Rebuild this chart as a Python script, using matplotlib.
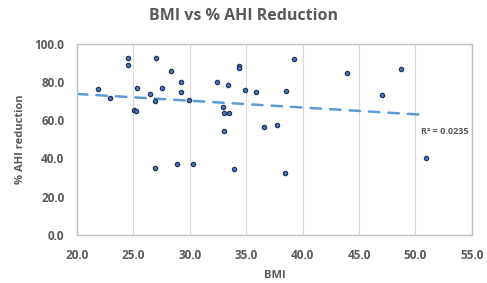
import matplotlib
matplotlib.use("Agg")
import matplotlib.pyplot as plt
import matplotlib.ticker as mticker
import numpy as np

plt.rcParams["font.family"] = ["Open Sans", "DejaVu Sans"]

# data
bmi = [21.9, 22.9, 24.5, 24.5, 25.3, 25.1, 25.2, 27.0, 26.5, 26.9,
       27.5, 28.3, 29.2, 29.2, 29.9, 32.4, 33.4, 32.9, 33.0, 33.5,
       33.0, 34.4, 34.4, 34.9, 35.9, 36.6, 37.7, 38.5, 39.2, 43.9,
       47.0, 48.7, 26.9, 28.9, 30.3, 33.9, 38.4, 50.9]
ahi_red = [76.4, 71.7, 92.8, 88.8, 76.8, 65.3, 64.6, 92.8, 73.7, 70.2,
           76.8, 85.7, 80.2, 74.7, 70.7, 80.1, 78.5, 67.2, 63.9, 64.0,
           54.5, 88.3, 87.2, 76.1, 74.9, 56.4, 57.6, 75.2, 92.3, 84.7,
           73.1, 87.1, 35.2, 37.0, 37.3, 34.4, 32.3, 40.3]
# excel linear trend line, end points
trend_x = [20.0, 50.9]
trend_y = [73.8, 62.8]
r2_text = "R² = 0.0235"

GRAY = "#595959"
AXC = "#BFBFBF"

fig = plt.figure(figsize=(4.87, 2.83), dpi=100)
ax = fig.add_axes([0.158, 0.170, 0.811, 0.675])

ax.plot(trend_x, trend_y, color="#5B9BD5", linewidth=1.8,
        linestyle=(0, (4.2, 3.6)), dash_capstyle="round", zorder=2)

ax.scatter(bmi, ahi_red, s=10, color="#4472C4", edgecolors="#1F2F4F",
           linewidths=0.8, zorder=3)

ax.text(52.6, 53.9, r2_text, fontsize=6.5, color=GRAY, fontweight="bold",
        ha="center", va="center")

ax.set_xlim(20, 55)
ax.set_ylim(0, 100)
ax.set_xticks(np.arange(20, 55.1, 5))
ax.set_yticks(np.arange(0, 100.1, 20))
ax.xaxis.set_major_formatter(mticker.FormatStrFormatter("%.1f"))
ax.yaxis.set_major_formatter(mticker.FormatStrFormatter("%.1f"))
ax.tick_params(length=0, labelsize=8.5, labelcolor=GRAY)
ax.tick_params(axis="x", pad=10)
ax.tick_params(axis="y", pad=9)
for lab in ax.get_xticklabels() + ax.get_yticklabels():
    lab.set_fontweight("bold")
ax.grid(axis="x", color="#D9D9D9", linewidth=0.8)
ax.set_axisbelow(True)
for s in ax.spines.values():
    s.set_color(AXC)
    s.set_linewidth(1.0)

ax.set_xlabel("BMI", fontsize=8, color=GRAY, fontweight="bold", labelpad=6)
ax.set_ylabel("% AHI reduction", fontsize=8, color=GRAY, fontweight="bold",
              labelpad=6)
fig.suptitle("BMI vs % AHI Reduction", fontsize=11.5, color=GRAY,
             fontweight="bold", y=0.97)

fig.savefig("out.png", dpi=100)
